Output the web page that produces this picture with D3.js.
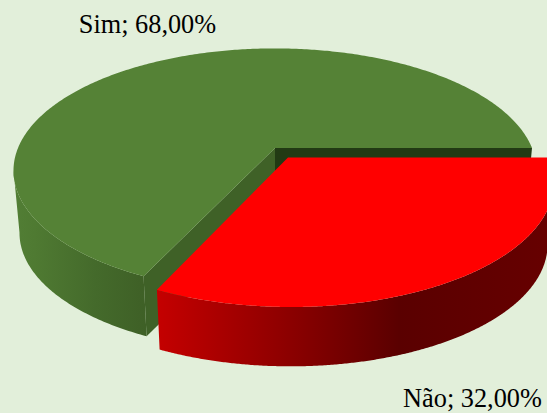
<!DOCTYPE html>
<html><head><meta charset="utf-8">
<script src="https://cdn.jsdelivr.net/npm/d3@7/dist/d3.min.js"></script>
<style>html,body{margin:0;padding:0;background:#e2efda;overflow:hidden}svg{display:block}</style>
</head><body><svg id="c" width="547" height="413"></svg>
<script>
const categories = ["Sim", "Não"];
const values = [68, 32];
const valueLabels = ["68,00%", "32,00%"];

const W = 547, H = 413;
const bg = "#e2efda";
const topColors = ["#558236", "#ff0000"];
const innerWallColors = ["#3f6127", "#223a14"];
const greenStops = [[0, "#527e35"], [0.15, "#4f7a32"], [0.6, "#446a2b"], [1, "#3e5f26"]];
const redStops = [[0, "#c40000"], [0.36, "#880000"], [0.62, "#5a0000"], [1, "#660000"]];

// Perspective model of the pie
const k = 0.185, explode = 0.093, depthScale = 0.977, depthDrop = 63;
const sx = d3.scaleLinear().domain([0, 1]).range([275, 532]);
const sy = d3.scaleLinear().domain([0, 1]).range([148, 266]);
function project(X, Y, low) {
  const w = 1 - k * Y;
  const s = low ? depthScale : 1;
  return [sx(X / w * s), sy(Y / w * s) + (low ? depthDrop : 0)];
}

const redSweep = values[1] / d3.sum(values) * 2 * Math.PI;
const pie = d3.pie().sort(null).value(d => d)
  .startAngle(redSweep).endAngle(redSweep + 2 * Math.PI);
const arcs = pie(values);

const svg = d3.select("#c");
svg.append("rect").attr("width", W).attr("height", H).attr("fill", bg);
const defs = svg.append("defs");
function grad(id, x1, x2, stops) {
  const g = defs.append("linearGradient").attr("id", id)
    .attr("gradientUnits", "userSpaceOnUse")
    .attr("x1", x1).attr("x2", x2).attr("y1", 0).attr("y2", 0);
  stops.forEach(s => g.append("stop").attr("offset", s[0]).attr("stop-color", s[1]));
}
grad("gWall", 14, 150, greenStops);
grad("rWall", 158, 547, redStops);

const line = d3.line();
const N = 360;
const angles = (a0, a1) => d3.range(0, N + 1).map(i => a0 + (a1 - a0) * i / N);
const ring = (as, ox, oy, low) => as.map(a => project(Math.cos(a) + ox, Math.sin(a) + oy, low));

function slice(a0, a1, ox, oy, topColor, wallFill, walls, side) {
  const as = angles(a0, a1);
  const T = ring(as, ox, oy, false);
  const c = project(ox, oy, false), cl = project(ox, oy, true);
  // only the arc between the silhouette point and the slice's front corner shows a side wall
  const xs = T.map(p => p[0]);
  const ext = side < 0 ? d3.minIndex(xs) : d3.maxIndex(xs);
  const vis = side < 0 ? as.slice(0, ext + 1) : as.slice(ext, 180 * 2 + 1);
  const VT = ring(vis, ox, oy, false), VL = ring(vis, ox, oy, true);
  svg.append("path").attr("d", line(VT.concat(VL.slice().reverse())) + "Z").attr("fill", wallFill);
  if (walls) {
    const L = ring(as, ox, oy, true);
    svg.append("path").attr("d", line([c, T[N], L[N], cl]) + "Z").attr("fill", walls[0]);
    svg.append("path").attr("d", line([c, T[0], L[0], cl]) + "Z").attr("fill", walls[1]);
  }
  svg.append("path").attr("d", line([c].concat(T)) + "Z").attr("fill", topColor);
}

const g = arcs[0];
slice(g.startAngle, g.endAngle, 0, 0, topColors[0], "url(#gWall)", [innerWallColors[1], innerWallColors[0]], -1);

const mid = redSweep / 2;
slice(0, redSweep, explode * Math.cos(mid), explode * Math.sin(mid), topColors[1], "url(#rWall)", null, 1);

const font = "'Liberation Serif','Times New Roman',serif";
const labelPos = [[147.5, 33], [472.5, 407]];
categories.forEach((c, i) => {
  svg.append("text").attr("x", labelPos[i][0]).attr("y", labelPos[i][1])
    .attr("text-anchor", "middle").attr("font-family", font).attr("font-size", 26.3)
    .attr("fill", "#000").text(c + "; " + valueLabels[i]);
});
</script></body></html>
